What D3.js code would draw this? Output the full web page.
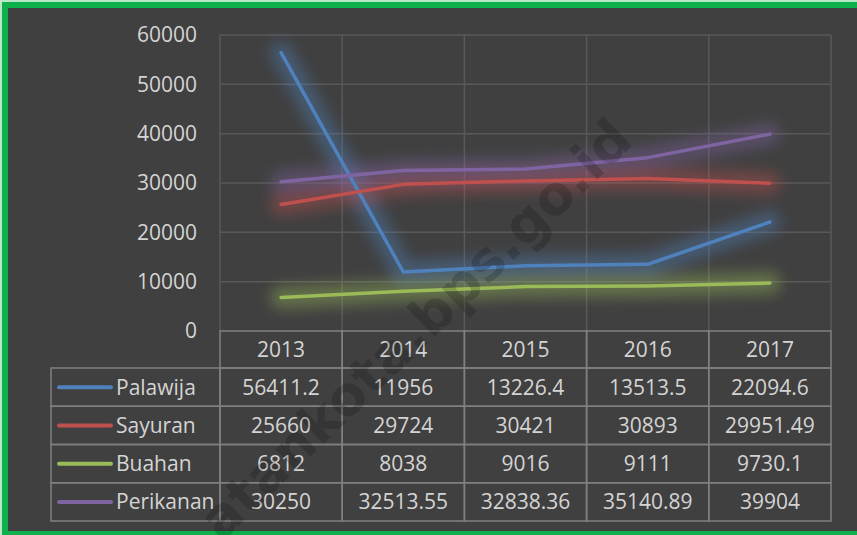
<!DOCTYPE html>
<html>
<head>
<meta charset="utf-8">
<script src="https://cdn.jsdelivr.net/npm/d3@7"></script>
<style>
  html, body { margin: 0; padding: 0; background: #fff; }
  svg { display: block; font-family: "Open Sans", sans-serif; }
</style>
</head>
<body>
<svg id="chart" width="857" height="535"></svg>
<script>
// data
const years = ['2013', '2014', '2015', '2016', '2017'];
const seriesNames = ['Palawija', 'Sayuran', 'Buahan', 'Perikanan'];
const palawija = [56411.2, 11956, 13226.4, 13513.5, 22094.6];
const sayuran = [25660, 29724, 30421, 30893, 29951.49];
const buahan = [6812, 8038, 9016, 9111, 9730.1];
const perikanan = [30250, 32513.55, 32838.36, 35140.89, 39904];
const yTicks = [0, 10000, 20000, 30000, 40000, 50000, 60000];
const colors = ['#4f81bd', '#c0504d', '#9bbb59', '#8064a2'];

const series = seriesNames.map((name, i) => ({
  name,
  values: [palawija, sayuran, buahan, perikanan][i],
  color: colors[i]
}));

const W = 857, H = 535;
const svg = d3.select('#chart');

// frame
svg.append('rect').attr('width', W).attr('height', H).attr('fill', '#b9e8c8');
svg.append('rect').attr('x', 2).attr('y', 2).attr('width', W).attr('height', H - 2).attr('fill', '#0db04b');
svg.append('rect').attr('x', 8).attr('y', 8).attr('width', W - 8).attr('height', 523).attr('fill', '#404040');

const plot = { left: 220, right: 831, top: 35, bottom: 331 };
const x = d3.scaleBand().domain(years).range([plot.left, plot.right]);
const y = d3.scaleLinear().domain([0, 60000]).range([plot.bottom, plot.top]);

const textColor = '#d4d4d4';

// glow filter
const defs = svg.append('defs');
defs.append('filter').attr('id', 'glow')
  .attr('x', '-20%').attr('y', '-50%').attr('width', '140%').attr('height', '200%')
  .append('feGaussianBlur').attr('stdDeviation', 7);

// gridlines
const grid = svg.append('g').attr('stroke', '#595959').attr('stroke-width', 1.5);
grid.selectAll('line.h').data(yTicks.slice(1)).join('line')
  .attr('x1', plot.left).attr('x2', plot.right)
  .attr('y1', d => y(d)).attr('y2', d => y(d));
grid.selectAll('line.v').data(years.concat(['end'])).join('line')
  .attr('x1', (d, i) => plot.left + i * x.step()).attr('x2', (d, i) => plot.left + i * x.step())
  .attr('y1', plot.top).attr('y2', plot.bottom);

// y axis labels
const yAxis = d3.axisLeft(y).tickValues(yTicks).tickSize(0).tickPadding(23).tickFormat(d3.format('d'));
const yg = svg.append('g').attr('transform', `translate(${plot.left},0)`).call(yAxis);
yg.select('.domain').remove();
yg.selectAll('text').attr('fill', textColor).attr('font-size', 21)
  .attr('font-family', '"Open Sans", sans-serif');

// lines
const line = d3.line()
  .x((d, i) => x(years[i]) + x.bandwidth() / 2)
  .y(d => y(d));

const glowG = svg.append('g').attr('filter', 'url(#glow)');
glowG.selectAll('path').data(series).join('path')
  .attr('d', d => line(d.values))
  .attr('fill', 'none').attr('stroke', d => d.color)
  .attr('stroke-width', 22).attr('stroke-opacity', 0.4)
  .attr('stroke-linejoin', 'round').attr('stroke-linecap', 'round');

svg.append('g').selectAll('path').data(series).join('path')
  .attr('d', d => line(d.values))
  .attr('fill', 'none').attr('stroke', d => d.color)
  .attr('stroke-width', 3.5)
  .attr('stroke-linejoin', 'round').attr('stroke-linecap', 'round');

// data table
const rowTop = [331, 368, 406.25, 444.5, 482.75, 521];
const tableLeft = 51;
const tbl = svg.append('g');
const border = '#808080';

// header cells
tbl.selectAll('rect.hd').data(years).join('rect')
  .attr('x', d => x(d)).attr('y', rowTop[0])
  .attr('width', x.step()).attr('height', rowTop[1] - rowTop[0])
  .attr('fill', 'none').attr('stroke', border).attr('stroke-width', 1.5);
tbl.selectAll('text.hd').data(years).join('text')
  .attr('x', d => x(d) + x.bandwidth() / 2).attr('y', (rowTop[0] + rowTop[1]) / 2)
  .attr('dy', '0.36em').attr('text-anchor', 'middle')
  .attr('fill', textColor).attr('font-size', 21).text(d => d);

series.forEach((s, r) => {
  const y0 = rowTop[r + 1], y1 = rowTop[r + 2], cy = (y0 + y1) / 2;
  const row = tbl.append('g');
  row.append('rect').attr('x', tableLeft).attr('y', y0)
    .attr('width', plot.left - tableLeft).attr('height', y1 - y0)
    .attr('fill', 'none').attr('stroke', border).attr('stroke-width', 1.5);
  row.append('line').attr('x1', 59).attr('x2', 111).attr('y1', cy).attr('y2', cy)
    .attr('stroke', s.color).attr('stroke-width', 4).attr('stroke-linecap', 'round');
  row.append('text').attr('x', 116).attr('y', cy).attr('dy', '0.36em')
    .attr('fill', textColor).attr('font-size', 21).text(s.name);
  row.selectAll('rect.c').data(s.values).join('rect')
    .attr('x', (d, i) => x(years[i])).attr('y', y0)
    .attr('width', x.step()).attr('height', y1 - y0)
    .attr('fill', 'none').attr('stroke', border).attr('stroke-width', 1.5);
  row.selectAll('text.c').data(s.values).join('text')
    .attr('x', (d, i) => x(years[i]) + x.bandwidth() / 2).attr('y', cy)
    .attr('dy', '0.36em').attr('text-anchor', 'middle')
    .attr('fill', textColor).attr('font-size', 21).text(d => String(d));
});

// watermark
svg.append('text')
  .attr('transform', 'translate(635,143) rotate(-44)')
  .attr('text-anchor', 'end')
  .attr('font-size', 54).attr('font-weight', 'bold')
  .attr('font-family', '"DejaVu Sans", sans-serif')
  .attr('fill', '#000').attr('fill-opacity', 0.17)
  .text('atankota.bps.go.id');
</script>
</body>
</html>
